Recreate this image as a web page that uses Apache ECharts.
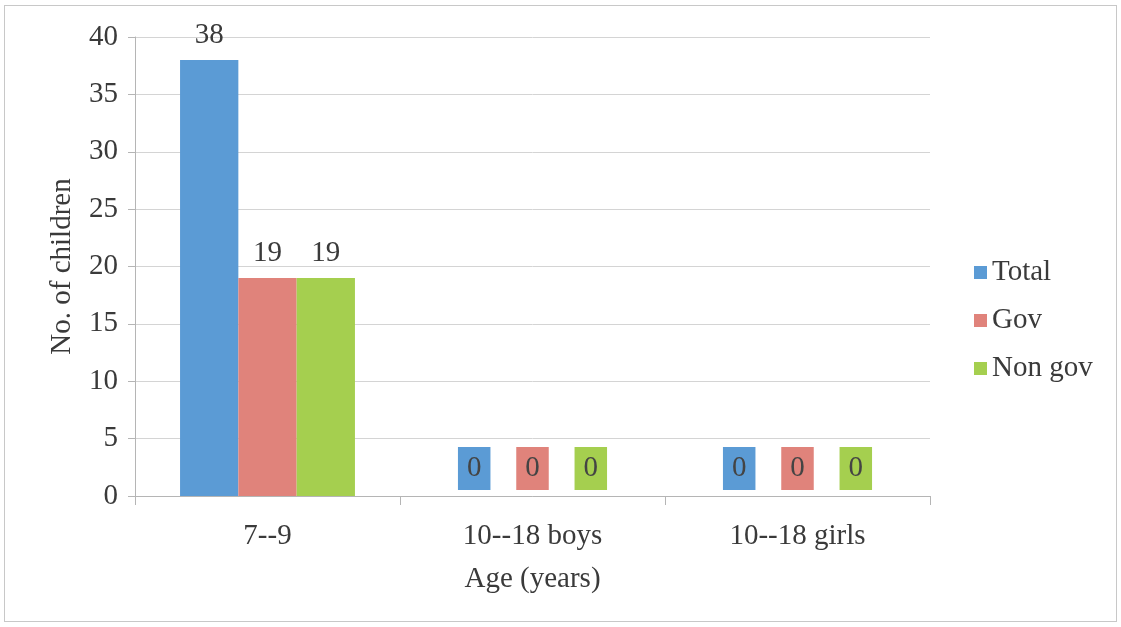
<!DOCTYPE html>
<html>
<head>
<meta charset="utf-8">
<script src="https://cdn.jsdelivr.net/npm/echarts@6/dist/echarts.min.js"></script>
<style>
  html, body { margin: 0; padding: 0; background: #fff; }
  #frame { position: absolute; left: 4px; top: 5px; width: 1111px; height: 615px; border: 1px solid #c8c8c8; }
  #chart { width: 1121px; height: 627px; }
</style>
</head>
<body>
<div id="frame"></div>
<div id="chart"></div>
<script>
  const categories = ['7--9', '10--18 boys', '10--18 girls'];
  const totalValues = [38, 0, 0];
  const govValues = [19, 0, 0];
  const nonGovValues = [19, 0, 0];
  const yTicks = [0, 5, 10, 15, 20, 25, 30, 35, 40];

  const font = 'Liberation Serif';
  const fs = 29;
  const colors = ['#5b9bd5', '#e0837b', '#a5cf4f'];

  function makeSeries(name, values, color) {
    return {
      name: name,
      type: 'bar',
      barGap: '0%',
      barCategoryGap: '34%',
      itemStyle: { color: color },
      label: {
        show: true,
        position: 'top',
        distance: 10,
        fontFamily: font,
        fontSize: fs,
        color: '#3a3a3a'
      },
      data: values.map(function (v) {
        if (v !== 0) return v;
        return {
          value: v,
          label: {
            backgroundColor: color,
            padding: [7, 9, 7, 9],
            distance: 6,
            color: '#444'
          }
        };
      })
    };
  }

  let chart = echarts.init(document.getElementById('chart'));
  let option = {
    animation: false,
    textStyle: { fontFamily: font },
    grid: { left: 135, right: 191, top: 37, bottom: 131 },
    legend: {
      orient: 'vertical',
      left: 969,
      top: 253,
      itemWidth: 13,
      itemHeight: 13,
      itemGap: 19,
      icon: 'rect',
      textStyle: { fontFamily: font, fontSize: fs, color: '#3a3a3a' },
      data: ['Total', 'Gov', 'Non gov']
    },
    xAxis: {
      type: 'category',
      data: categories,
      name: 'Age (years)',
      nameLocation: 'middle',
      nameGap: 69,
      nameTextStyle: { fontFamily: font, fontSize: fs, color: '#3a3a3a' },
      axisLine: { lineStyle: { color: '#b5b5b5' } },
      axisTick: { show: true, length: 9, lineStyle: { color: '#b5b5b5' } },
      axisLabel: { fontFamily: font, fontSize: fs, color: '#3a3a3a', margin: 26 }
    },
    yAxis: {
      type: 'value',
      min: yTicks[0],
      max: yTicks[yTicks.length - 1],
      interval: 5,
      name: 'No. of children',
      nameLocation: 'middle',
      nameGap: 58,
      nameTextStyle: { fontFamily: font, fontSize: fs, color: '#3a3a3a' },
      axisLine: { show: true, lineStyle: { color: '#b5b5b5' } },
      axisTick: { show: true, length: 7, lineStyle: { color: '#b5b5b5' } },
      axisLabel: { fontFamily: font, fontSize: fs, color: '#3a3a3a', margin: 17 },
      splitLine: { lineStyle: { color: '#d4d4d4' } }
    },
    series: [
      makeSeries('Total', totalValues, colors[0]),
      makeSeries('Gov', govValues, colors[1]),
      makeSeries('Non gov', nonGovValues, colors[2])
    ]
  };
  chart.setOption(option);
</script>
</body>
</html>
